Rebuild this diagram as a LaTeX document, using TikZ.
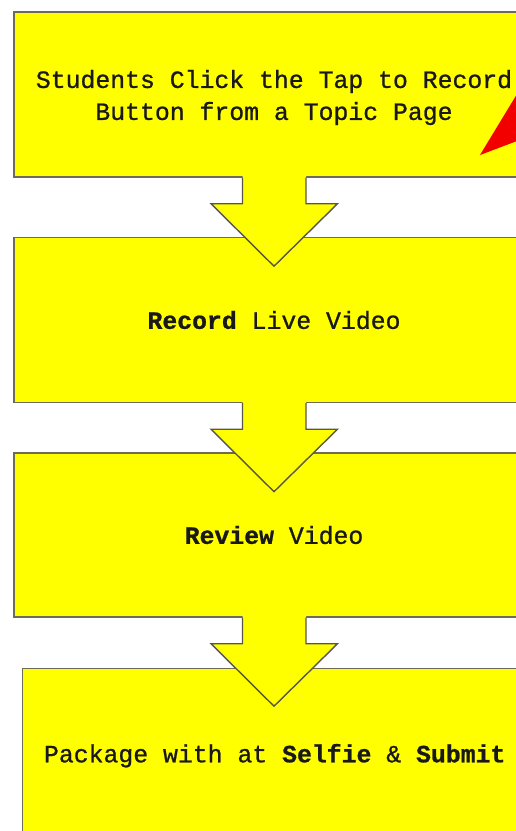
\documentclass[tikz,border=0pt]{standalone}
\usepackage{fontspec}
\setmonofont{Liberation Mono}[UprightFeatures={FakeBold=0.9}, BoldFeatures={FakeBold=0.9}]
\usetikzlibrary{calc}
\definecolor{boxyellow}{HTML}{FFFF00}
\definecolor{edgegray}{HTML}{6E6C55}
\definecolor{arrowred}{HTML}{F20000}
\tikzset{
  stepbox/.style={draw=edgegray, line width=1.4pt, fill=boxyellow, rectangle,
    minimum width=520pt, inner sep=0pt, align=center,
    font=\ttfamily\fontsize{24.8}{32}\selectfont, text=black!90},
  steptext/.style={inner sep=0pt, align=center,
    font=\ttfamily\fontsize{24.8}{32}\selectfont, text=black!90},
  blockfill/.style={fill=boxyellow, draw=none},
  blockedge/.style={draw=edgegray!80!black, line width=1.4pt, line join=miter},
}
\begin{document}
\begin{tikzpicture}[x=1pt,y=-1pt]
\useasboundingbox (0,0) rectangle (516,831);
\clip (0,0) rectangle (516,831);
\fill[white] (0,0) rectangle (516,831);
\node[stepbox, minimum height=165pt] (b1) at (274,94.5) {};
\node[steptext] (t1) at ($(b1.center)+(0,3)$)
  {Students Click the Tap to Record\\Button from a Topic Page};
\node[stepbox, minimum height=165pt] (b2) at (274,320)
  {\textbf{Record} Live Video};
\node[stepbox, minimum height=164pt] (b3) at (274,535)
  {\textbf{Review} Video};
\node[stepbox, minimum width=504pt, minimum height=174pt, anchor=north west] (b4) at (22,668)
  {Package with at \textbf{Selfie} \& \textbf{Submit}};
% red pointer (cropped)
\fill[arrowred] (480,155) -- (517,94) -- (517,141) -- cycle;
% block arrows between boxes
\foreach \a in {b1, b2, b3}{
  \coordinate (s) at (\a.south -| b1.south);
  \fill[blockfill] ($(s)+(-31.5,-1.5)$) -- ($(s)+(-31.5,26)$) -- ($(s)+(-63,26)$)
     -- ($(s)+(0,88.5)$) -- ($(s)+(63.5,26)$) -- ($(s)+(32,26)$) -- ($(s)+(32,-1.5)$) -- cycle;
  \draw[blockedge] (s) ++(-31.5,0) -- ++(0,26) -- ++(-31.5,0) -- ++(63,62.5)
     -- ++(63.5,-62.5) -- ++(-31.5,0) -- ++(0,-26);
}
\end{tikzpicture}
\end{document}
